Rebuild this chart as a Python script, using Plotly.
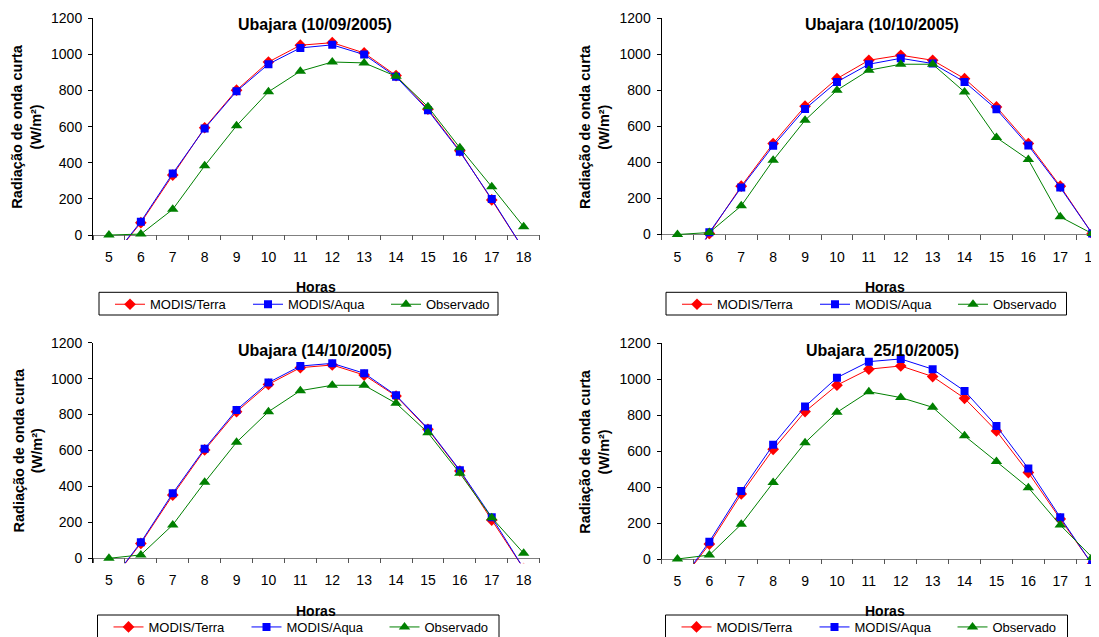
import plotly.graph_objects as go

# ---------------- data ----------------
hours = [5, 6, 7, 8, 9, 10, 11, 12, 13, 14, 15, 16, 17, 18]

titles = ["Ubajara (10/09/2005)", "Ubajara (10/10/2005)",
          "Ubajara (14/10/2005)", "Ubajara\u00a0 25/10/2005)"]

series_names = ["MODIS/Terra", "MODIS/Aqua", "Observado"]

terra_1009 = [-150, 68, 332, 594, 802, 958, 1051, 1065, 1008, 883, 697, 466, 194, -80]
aqua_1009 = [-150, 74, 341, 590, 796, 946, 1036, 1053, 999, 876, 691, 461, 199, -80]
obs_1009 = [0, 5, 142, 383, 605, 793, 907, 958, 953, 879, 710, 483, 267, 46]

terra_1010 = [-300, 5, 268, 505, 712, 865, 967, 995, 967, 865, 708, 505, 268, 5]
aqua_1010 = [-300, 12, 261, 492, 697, 847, 945, 978, 949, 847, 695, 494, 261, 5]
obs_1010 = [0, 11, 159, 412, 634, 801, 912, 945, 945, 791, 538, 416, 98, 5]

terra_1410 = [-145, 83, 352, 603, 816, 968, 1061, 1076, 1020, 903, 718, 486, 213, -57]
aqua_1410 = [-145, 89, 362, 610, 826, 978, 1070, 1085, 1030, 907, 722, 490, 228, -57]
obs_1410 = [0, 19, 186, 423, 646, 816, 933, 963, 963, 863, 699, 473, 226, 28]

terra_2510 = [-150, 83, 362, 610, 820, 967, 1056, 1074, 1015, 894, 712, 481, 223, -30]
aqua_2510 = [-150, 96, 378, 635, 848, 1009, 1098, 1113, 1056, 935, 740, 503, 232, -30]
obs_2510 = [0, 22, 193, 425, 647, 816, 931, 898, 844, 685, 542, 397, 189, 9]

y_ticks = [0, 200, 400, 600, 800, 1000, 1200]
y_title = "Radiação de onda curta<br>(W/m²)"
x_title = "Horas"

panel_data = [
    (terra_1009, aqua_1009, obs_1009),
    (terra_1010, aqua_1010, obs_1010),
    (terra_1410, aqua_1410, obs_1410),
    (terra_2510, aqua_2510, obs_2510),
]

# ---------------- style / layout ----------------
PAGE_W, PAGE_H = 1099, 637
OFF = 8  # default page body margin in the browser
W, H = PAGE_W - OFF, PAGE_H - OFF
FONT = "Liberation Sans, Arial, sans-serif"
colors = ["#FF0000", "#0000FF", "#008000"]
symbols = ["diamond", "square", "triangle-up"]
msizes = [9, 8, 10]
HOUR_PX = 31.9
YMIN = -28


def fx(px):
    return (px - OFF) / W


def fy(py):
    return 1 - (py - OFF) / H


# pixel geometry (page pixels) of each panel
panels = [
    dict(x0=93.0, x1=540.0, ytop=18.3, yzero=235.0, box=(99, 292.3, 498, 315),
         yt_x=27.0, title_x=315, title_y=25, horas_y=287),
    dict(x0=661.5, x1=1099.0, ytop=18.3, yzero=234.5, box=(666, 292.3, 1066.5, 315),
         yt_x=594.5, title_x=882, title_y=25, horas_y=287),
    dict(x0=93.0, x1=540.0, ytop=342.7, yzero=558.3, box=(97.5, 615, 499, 640),
         yt_x=28.0, title_x=315, title_y=350, horas_y=611),
    dict(x0=661.5, x1=1099.0, ytop=343.3, yzero=559.0, box=(665.5, 615, 1067.5, 640),
         yt_x=594.5, title_x=882, title_y=350, horas_y=611),
]

fig = go.Figure()
layout = dict(
    width=W, height=H, autosize=False,
    margin=dict(l=0, r=0, t=0, b=0, pad=0, autoexpand=False),
    paper_bgcolor="white", plot_bgcolor="white",
    font=dict(family=FONT, color="black", size=14),
    annotations=[], shapes=[],
)

for i, (p, vals) in enumerate(zip(panels, panel_data)):
    n = "" if i == 0 else str(i + 1)
    xa, ya = "x" + n, "y" + n
    leg = "legend" + n
    for s in range(3):
        fig.add_trace(go.Scatter(
            x=hours, y=vals[s], name=series_names[s], mode="lines+markers",
            line=dict(color=colors[s], width=1),
            marker=dict(symbol=symbols[s], size=msizes[s], color=colors[s],
                        line=dict(width=0)),
            xaxis=xa, yaxis=ya, legend=leg, showlegend=True,
        ))
    k = (p["yzero"] - p["ytop"]) / 1200.0
    ybot = p["yzero"] - YMIN * k
    xr1 = 4.5 + (p["x1"] - p["x0"]) / HOUR_PX
    layout["xaxis" + n] = dict(
        domain=[fx(p["x0"]), min(1.0, fx(p["x1"]))], anchor=ya, automargin=False,
        range=[4.5, xr1], showgrid=False, zeroline=False, showline=False,
        tickmode="array", tickvals=hours, ticktext=[str(h) for h in hours],
        ticks="", ticklabelstandoff=7, ticklabeloverflow="allow",
        tickfont=dict(size=14, family=FONT, color="black"),
        minor=dict(tickmode="array", tickvals=[h + 0.5 for h in [4] + hours],
                   ticks="inside", ticklen=5, tickwidth=1, tickcolor="#555555",
                   showgrid=False),
        fixedrange=True,
    )
    layout["yaxis" + n] = dict(
        domain=[fy(ybot), fy(p["ytop"])], anchor=xa, automargin=False,
        range=[YMIN, 1200], showgrid=False,
        zeroline=True, zerolinecolor="#808080", zerolinewidth=1,
        showline=True, linecolor="black", linewidth=1,
        tickmode="array", tickvals=y_ticks, ticks="outside", ticklen=4,
        tickcolor="black", ticklabelstandoff=3,
        tickfont=dict(size=14, family=FONT, color="black"),
        fixedrange=True,
    )
    bx0, by0, bx1, by1 = p["box"]
    layout[leg] = dict(
        orientation="h", x=fx(bx0 + 11), y=fy(by0 - 3),
        xanchor="left", yanchor="top", bgcolor="rgba(0,0,0,0)",
        borderwidth=0,
        font=dict(size=13, family=FONT, color="black"),
        entrywidth=93, entrywidthmode="pixels", itemwidth=30,
        traceorder="normal",
    )
    layout["shapes"].append(dict(
        type="rect", xref="paper", yref="paper",
        x0=fx(bx0), x1=fx(bx1), y0=fy(by1), y1=fy(by0),
        line=dict(color="black", width=1), fillcolor="rgba(0,0,0,0)",
        layer="below"))
    layout["annotations"] += [
        dict(text="<b>%s</b>" % titles[i], xref="paper", yref="paper",
             x=fx(p["title_x"]), y=fy(p["title_y"]), xanchor="center",
             yanchor="middle", showarrow=False,
             font=dict(size=16, family=FONT, color="black")),
        dict(text="<b>%s</b>" % x_title, xref="paper", yref="paper",
             x=fx(p["x0"] + 7 * HOUR_PX),
             y=fy(p["horas_y"]), xanchor="center", yanchor="middle",
             showarrow=False, font=dict(size=14, family=FONT, color="black")),
        dict(text="<b>%s</b>" % y_title, xref="paper", yref="paper",
             x=fx(p["yt_x"]), y=fy((p["ytop"] + p["yzero"]) / 2),
             xanchor="center", yanchor="middle", textangle=-90,
             showarrow=False, font=dict(size=14.5, family=FONT, color="black")),
    ]

fig.update_layout(**layout)
fig.write_html("out.html")
